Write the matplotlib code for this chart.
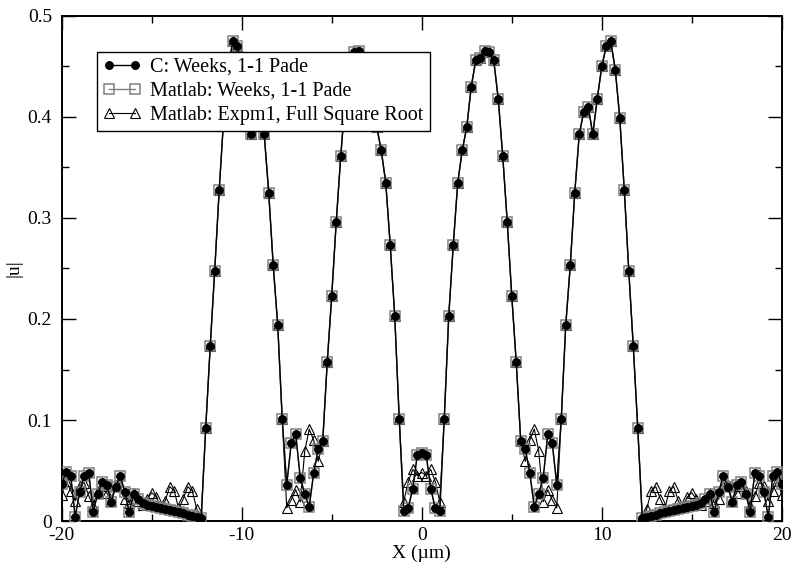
import numpy as np
import matplotlib
matplotlib.use("Agg")
import matplotlib.pyplot as plt
from matplotlib.ticker import MultipleLocator

plt.rcParams['font.family'] = ['Liberation Serif', 'DejaVu Serif']

# sample positions across the domain (µm), uniform 0.25 µm grid
x_um = np.arange(-80, 81) * 0.25

# |u| from the C implementation (Weeks method, 1-1 Pade)
weeks_c = [
    0.037, 0.049, 0.045, 0.004, 0.029, 0.045, 0.048, 0.009, 0.027, 0.039,
    0.036, 0.019, 0.034, 0.045, 0.029, 0.009, 0.027, 0.022, 0.018, 0.016,
    0.015, 0.014, 0.013, 0.012, 0.011, 0.010, 0.009, 0.008, 0.006, 0.005,
    0.004, 0.003, 0.092, 0.173, 0.248, 0.328, 0.399, 0.447, 0.475, 0.470,
    0.450, 0.418, 0.383, 0.410, 0.405, 0.383, 0.325, 0.253, 0.194, 0.101,
    0.036, 0.077, 0.086, 0.043, 0.027, 0.014, 0.048, 0.071, 0.079, 0.157,
    0.223, 0.296, 0.361, 0.418, 0.456, 0.464, 0.465, 0.458, 0.456, 0.430,
    0.390, 0.367, 0.335, 0.273, 0.203, 0.101, 0.010, 0.013, 0.032, 0.065,
    0.067,
    0.065, 0.032, 0.013, 0.010, 0.101, 0.203, 0.273, 0.335, 0.367, 0.390,
    0.430, 0.456, 0.458, 0.465, 0.464, 0.456, 0.418, 0.361, 0.296, 0.223,
    0.157, 0.079, 0.071, 0.048, 0.014, 0.027, 0.043, 0.086, 0.077, 0.036,
    0.101, 0.194, 0.253, 0.325, 0.383, 0.405, 0.410, 0.383, 0.418, 0.450,
    0.470, 0.475, 0.447, 0.399, 0.328, 0.248, 0.173, 0.092, 0.003, 0.004,
    0.005, 0.006, 0.008, 0.009, 0.010, 0.011, 0.012, 0.013, 0.014, 0.015,
    0.016, 0.018, 0.022, 0.027, 0.009, 0.029, 0.045, 0.034, 0.019, 0.036,
    0.039, 0.027, 0.009, 0.048, 0.045, 0.029, 0.004, 0.045, 0.049, 0.037,
]

# the Matlab Weeks run agrees with the C run to plotting precision
weeks_matlab = list(weeks_c)

# |u| from Matlab, expm1 with the full square root operator
expm1_matlab = [
    0.026, 0.040, 0.030, 0.020, 0.035, 0.038, 0.025, 0.015, 0.030, 0.035,
    0.028, 0.020, 0.036, 0.035, 0.022, 0.018, 0.028, 0.020, 0.016, 0.022,
    0.028, 0.024, 0.014, 0.020, 0.034, 0.030, 0.012, 0.022, 0.034, 0.030,
    0.012, 0.004, 0.092, 0.173, 0.248, 0.328, 0.399, 0.447, 0.475, 0.470,
    0.450, 0.418, 0.383, 0.410, 0.405, 0.383, 0.325, 0.253, 0.194, 0.101,
    0.013, 0.021, 0.031, 0.019, 0.069, 0.091, 0.080, 0.059, 0.079, 0.157,
    0.223, 0.296, 0.361, 0.418, 0.456, 0.464, 0.465, 0.458, 0.456, 0.430,
    0.390, 0.367, 0.335, 0.273, 0.203, 0.101, 0.019, 0.039, 0.051, 0.045,
    0.048,
    0.045, 0.051, 0.039, 0.019, 0.101, 0.203, 0.273, 0.335, 0.367, 0.390,
    0.430, 0.456, 0.458, 0.465, 0.464, 0.456, 0.418, 0.361, 0.296, 0.223,
    0.157, 0.079, 0.059, 0.080, 0.091, 0.069, 0.019, 0.031, 0.021, 0.013,
    0.101, 0.194, 0.253, 0.325, 0.383, 0.405, 0.410, 0.383, 0.418, 0.450,
    0.470, 0.475, 0.447, 0.399, 0.328, 0.248, 0.173, 0.092, 0.004, 0.012,
    0.030, 0.034, 0.022, 0.012, 0.030, 0.034, 0.020, 0.014, 0.024, 0.028,
    0.022, 0.016, 0.020, 0.028, 0.018, 0.022, 0.035, 0.036, 0.020, 0.028,
    0.035, 0.030, 0.015, 0.025, 0.038, 0.035, 0.020, 0.030, 0.040, 0.026,
]

labels = ["C: Weeks, 1-1 Pade", "Matlab: Weeks, 1-1 Pade",
          "Matlab: Expm1, Full Square Root"]

fig = plt.figure(figsize=(7.92, 5.75), dpi=100)
ax = fig.add_axes([0.0779, 0.0939, 0.9092, 0.8783])

ax.plot(x_um, weeks_c, color='black', lw=1.0, marker='o', ms=5.4,
        mfc='black', mec='black', label=labels[0], zorder=4)
ax.plot(x_um, weeks_matlab, color='#808080', lw=1.0, marker='s', ms=7.5,
        mfc='none', mec='#808080', mew=1.1, label=labels[1], zorder=3)
ax.plot(x_um, expm1_matlab, color='black', lw=0.8, marker='^', ms=7.5,
        mfc='none', mec='black', mew=0.8, label=labels[2], zorder=2)

ax.set_xlim(-20, 20)
ax.set_ylim(0, 0.5)
ax.xaxis.set_minor_locator(MultipleLocator(5))
ax.yaxis.set_minor_locator(MultipleLocator(0.05))
ax.set_yticks([0, 0.1, 0.2, 0.3, 0.4, 0.5])
ax.set_yticklabels(["0", "0.1", "0.2", "0.3", "0.4", "0.5"])
ax.set_xticks([-20, -10, 0, 10, 20])
ax.set_xticklabels(["-20", "-10", "0", "10", "20"])
ax.tick_params(which='both', direction='in', top=True, right=True,
               labelsize=14, width=1.0)
ax.tick_params(which='major', length=10)
ax.tick_params(axis='y', which='major', pad=7)
ax.tick_params(axis='x', which='major', pad=4)
ax.tick_params(which='minor', length=5)
for s in ax.spines.values():
    s.set_linewidth(1.4)

ax.set_xlabel("X (µm)", fontsize=14, labelpad=1)
ax.set_ylabel("|u|", fontsize=14, labelpad=4)

leg = ax.legend(loc='upper left', bbox_to_anchor=(0.049, 0.929),
                borderaxespad=0, fontsize=14.5, numpoints=2,
                handlelength=1.9, handletextpad=0.45, labelspacing=0.24,
                borderpad=0.3, fancybox=False, framealpha=1,
                edgecolor='black')
leg.get_frame().set_linewidth(1.0)
leg.set_zorder(10)

fig.savefig("out.png", dpi=100)
